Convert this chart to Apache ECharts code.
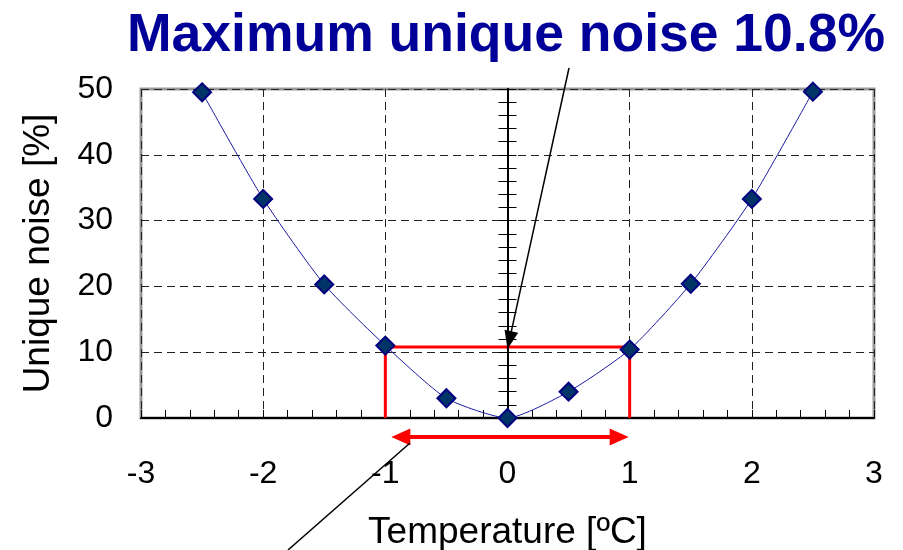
<!DOCTYPE html>
<html><head><meta charset="utf-8">
<script src="https://cdn.jsdelivr.net/npm/echarts@6/dist/echarts.min.js"></script>
<style>html,body{margin:0;padding:0;background:#fff}#c{width:903px;height:550px}</style>
</head><body><div id="c"></div>
<script>
const temperature = [-2.5, -2, -1.5, -1, -0.5, 0, 0.5, 1, 1.5, 2, 2.5];
const uniqueNoise = [49.5, 33.3, 20.3, 11.0, 3.0, 0, 4.0, 10.4, 20.4, 33.3, 49.6];
const xTickLabels = ['-3', '-2', '-1', '0', '1', '2', '3'];
const yTickLabels = ['0', '10', '20', '30', '40', '50'];
const bandRange = [-1, 1];
const maxNoise = 10.8;
const titleText = 'Maximum unique noise 10.8%';
const xName = 'Temperature [ºC]';
const yName = 'Unique noise [%]';

const FONT = "'Liberation Sans', Arial, sans-serif";
const chart = echarts.init(document.getElementById('c'), null, {renderer: 'canvas'});

const curve = temperature.map((t, i) => [t, uniqueNoise[i]]);
const rect = [[bandRange[0], 0], [bandRange[0], maxNoise], [bandRange[1], maxNoise], [bandRange[1], 0]];
const dash = {type: [8, 5], color: '#222', width: 1};

const tickAxis = (pos) => ({
  type: 'value', min: 0, max: 50, interval: 2, position: pos,
  axisLine: {show: true, onZero: true, onZeroAxisIndex: 0, lineStyle: {color: '#000', width: 2}},
  axisTick: {show: true, length: 9, lineStyle: {color: '#000', width: 1}},
  axisLabel: {show: false}, splitLine: {show: false}
});

chart.setOption({
  animation: false,
  backgroundColor: '#fff',
  grid: {left: 141, right: 29, top: 89, bottom: 132, containLabel: false, outerBoundsMode: 'none',
    show: true, borderColor: '#999', borderWidth: 3, backgroundColor: 'transparent'},
  xAxis: {
    type: 'value', min: -3, max: 3, interval: 1,
    axisLine: {onZero: false, lineStyle: {color: '#000', width: 2}},
    axisTick: {inside: true, length: 8, lineStyle: {color: '#000'}},
    minorTick: {show: true, splitNumber: 5, length: 8, lineStyle: {color: '#000'}},
    axisLabel: {fontSize: 32, color: '#000', fontFamily: FONT, margin: 40,
      formatter: v => xTickLabels[Math.round(v) + 3]},
    splitLine: {show: true, lineStyle: dash},
    name: xName, nameLocation: 'middle', nameGap: 96,
    nameTextStyle: {fontSize: 37, color: '#000', fontFamily: FONT}
  },
  yAxis: [
    {
      type: 'value', min: 0, max: 50, interval: 10, position: 'left',
      axisLine: {show: false, onZero: false}, axisTick: {show: false},
      axisLabel: {fontSize: 32, color: '#000', fontFamily: FONT, margin: 28,
        formatter: v => yTickLabels[Math.round(v / 10)]},
      splitLine: {show: true, lineStyle: dash},
      name: yName, nameLocation: 'middle', nameGap: 84,
      nameTextStyle: {fontSize: 37, color: '#000', fontFamily: FONT}
    },
    tickAxis('left'),
    tickAxis('right')
  ],
  series: [
    {
      type: 'line', data: rect, symbol: 'none', z: 3,
      lineStyle: {color: '#ff0000', width: 3}
    },
    {
      type: 'line', data: curve, smooth: 0.2, z: 4,
      symbol: 'diamond', symbolSize: 18,
      lineStyle: {color: '#1a1aa0', width: 1},
      itemStyle: {color: '#003366', borderColor: '#000080', borderWidth: 2}
    }
  ]
});

function arrowHead(tip, from, len, half, color) {
  const dx = tip[0] - from[0], dy = tip[1] - from[1];
  const L = Math.hypot(dx, dy), ux = dx / L, uy = dy / L;
  const bx = tip[0] - ux * len, by = tip[1] - uy * len;
  return {type: 'polygon', z: 20, shape: {points: [tip, [bx - uy * half, by + ux * half], [bx + uy * half, by - ux * half]]}, style: {fill: color}};
}

const P = (x, y) => chart.convertToPixel({gridIndex: 0}, [x, y]);
const origin = P(0, 0);
const ay = origin[1] + 19;
const leftTip = [P(bandRange[0], 0)[0] + 6, ay];
const rightTip = [P(bandRange[1], 0)[0] - 1, ay];
const peak = P(0, maxNoise);
const arrowStart = [569, 68];
const arrowTip = [peak[0], peak[1] + 2];

chart.setOption({
  graphic: [
    {type: 'text', z: 30, x: 506, y: 36, style: {text: titleText, fill: '#000099', font: "bold 53.5px 'Liberation Sans', Arial, sans-serif", align: 'center', verticalAlign: 'middle'}},
    {type: 'line', z: 20, shape: {x1: leftTip[0] + 12, y1: ay, x2: rightTip[0] - 12, y2: ay}, style: {stroke: '#ff0000', lineWidth: 4}},
    arrowHead(leftTip, rightTip, 19, 8.5, '#ff0000'),
    arrowHead(rightTip, leftTip, 19, 8.5, '#ff0000'),
    {type: 'line', z: 20, shape: {x1: arrowStart[0], y1: arrowStart[1], x2: arrowTip[0], y2: arrowTip[1]}, style: {stroke: '#000', lineWidth: 1.5}},
    arrowHead(arrowTip, arrowStart, 18, 7, '#000'),
    {type: 'line', z: 20, shape: {x1: 288, y1: 550, x2: 410, y2: 443}, style: {stroke: '#000', lineWidth: 1.5}}
  ]
});
</script>
</body></html>
